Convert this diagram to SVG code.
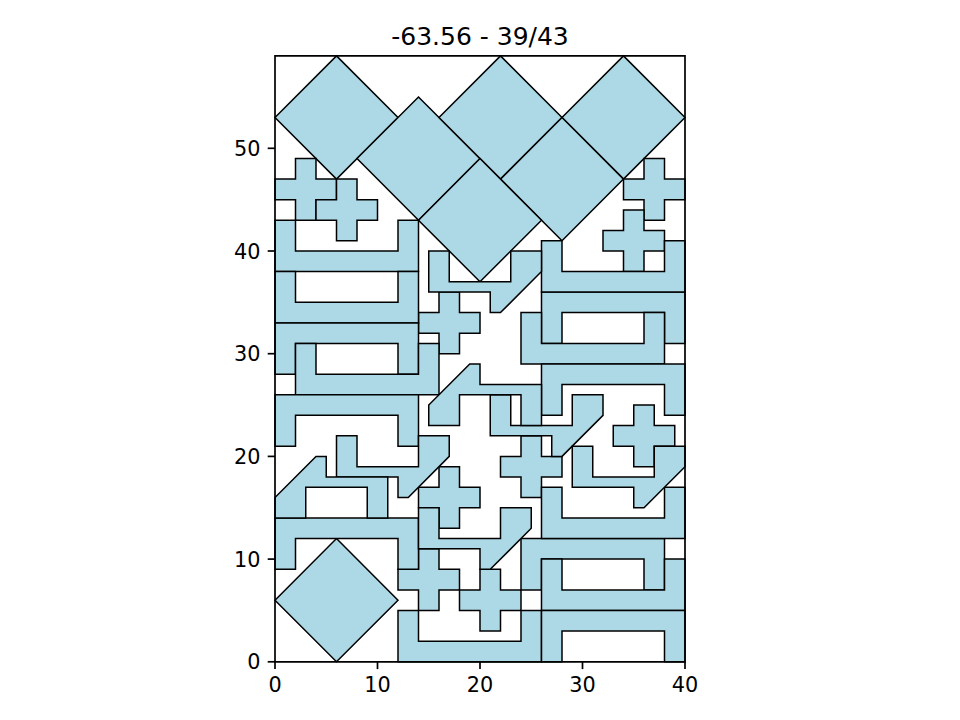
<svg xmlns="http://www.w3.org/2000/svg" width="960" height="720" viewBox="0 0 960 720">
<style>
.s{fill:#ADD8E6;stroke:#000;stroke-width:1.5;stroke-linejoin:miter;vector-effect:non-scaling-stroke}
.frame{fill:none;stroke:#000;stroke-width:1.7;vector-effect:non-scaling-stroke}
.tick{stroke:#000;stroke-width:1.7}
.tl{font-family:"DejaVu Sans",sans-serif;font-size:20.8px;fill:#000}
.title{font-family:"DejaVu Sans",sans-serif;font-size:25px;fill:#000}
</style>
<rect width="960" height="720" fill="#fff"/>
<g id="plot" transform="matrix(10.25 0 0 -10.27 275 661.8)">
<g id="diamond1"><polygon class="s" points="6,59 12,53 6,47 0,53"/></g>
<g id="diamond2"><polygon class="s" points="14,55 20,49 14,43 8,49"/></g>
<g id="diamond3"><polygon class="s" points="22,59 28,53 22,47 16,53"/></g>
<g id="diamond4"><polygon class="s" points="34,59 40,53 34,47 28,53"/></g>
<g id="diamond5"><polygon class="s" points="28,53 34,47 28,41 22,47"/></g>
<g id="diamond6"><polygon class="s" points="20,49 26,43 20,37 14,43"/></g>
<g id="diamond7"><polygon class="s" points="6,12 12,6 6,0 0,6"/></g>
<g id="cross1"><polygon class="s" points="2,49 4,49 4,47 6,47 6,45 4,45 4,43 2,43 2,45 0,45 0,47 2,47"/></g>
<g id="cross2"><polygon class="s" points="6,47 8,47 8,45 10,45 10,43 8,43 8,41 6,41 6,43 4,43 4,45 6,45"/></g>
<g id="cross3"><polygon class="s" points="36,49 38,49 38,47 40,47 40,45 38,45 38,43 36,43 36,45 34,45 34,47 36,47"/></g>
<g id="cross4"><polygon class="s" points="34,44 36,44 36,42 38,42 38,40 36,40 36,38 34,38 34,40 32,40 32,42 34,42"/></g>
<g id="cross5"><polygon class="s" points="16,36 18,36 18,34 20,34 20,32 18,32 18,30 16,30 16,32 14,32 14,34 16,34"/></g>
<g id="cross6"><polygon class="s" points="35,25 37,25 37,23 39,23 39,21 37,21 37,19 35,19 35,21 33,21 33,23 35,23"/></g>
<g id="cross7"><polygon class="s" points="24,22 26,22 26,20 28,20 28,18 26,18 26,16 24,16 24,18 22,18 22,20 24,20"/></g>
<g id="cross8"><polygon class="s" points="16,19 18,19 18,17 20,17 20,15 18,15 18,13 16,13 16,15 14,15 14,17 16,17"/></g>
<g id="cross9"><polygon class="s" points="14,11 16,11 16,9 18,9 18,7 16,7 16,5 14,5 14,7 12,7 12,9 14,9"/></g>
<g id="cross10"><polygon class="s" points="20,9 22,9 22,7 24,7 24,5 22,5 22,3 20,3 20,5 18,5 18,7 20,7"/></g>
<g id="u1"><polygon class="s" points="0,43 2,43 2,40 12,40 12,43 14,43 14,38 0,38"/></g>
<g id="u2"><polygon class="s" points="0,38 2,38 2,35 12,35 12,38 14,38 14,33 0,33"/></g>
<g id="u3"><polygon class="s" points="0,33 14,33 14,28 12,28 12,31 2,31 2,28 0,28"/></g>
<g id="u4"><polygon class="s" points="2,31 4,31 4,28 14,28 14,31 16,31 16,26 2,26"/></g>
<g id="u5"><polygon class="s" points="0,26 14,26 14,21 12,21 12,24 2,24 2,21 0,21"/></g>
<g id="u6"><polygon class="s" points="0,14 14,14 14,9 12,9 12,12 2,12 2,9 0,9"/></g>
<g id="u7"><polygon class="s" points="12,5 14,5 14,2 24,2 24,5 26,5 26,0 12,0"/></g>
<g id="u8"><polygon class="s" points="24,12 38,12 38,7 36,7 36,10 26,10 26,7 24,7"/></g>
<g id="u9"><polygon class="s" points="26,10 28,10 28,7 38,7 38,10 40,10 40,5 26,5"/></g>
<g id="u10"><polygon class="s" points="26,5 40,5 40,0 38,0 38,3 28,3 28,0 26,0"/></g>
<g id="u11"><polygon class="s" points="26,36 40,36 40,31 38,31 38,34 28,34 28,31 26,31"/></g>
<g id="u12"><polygon class="s" points="24,34 26,34 26,31 36,31 36,34 38,34 38,29 24,29"/></g>
<g id="u13"><polygon class="s" points="26,41 28,41 28,38 38,38 38,41 40,41 40,36 26,36"/></g>
<g id="u14"><polygon class="s" points="26,17 28,17 28,14 38,14 38,17 40,17 40,12 26,12"/></g>
<g id="u15"><polygon class="s" points="26,29 40,29 40,24 38,24 38,27 28,27 28,24 26,24"/></g>
<g id="hook1"><polygon class="s" points="15,40 17,40 17,37 23,37 23,40 26,40 26,38 22,34 21,34 21,36 15,36"/></g>
<g id="hook2"><polygon class="s" points="21,26 23,26 23,23 29,23 29,26 32,26 32,24 28,20 27,20 27,22 21,22"/></g>
<g id="hook3"><polygon class="s" points="14,15 16,15 16,12 22,12 22,15 25,15 25,13 21,9 20,9 20,11 14,11"/></g>
<g id="hook4"><polygon class="s" points="29,21 31,21 31,18 37,18 37,21 40,21 40,19 36,15 35,15 35,17 29,17"/></g>
<g id="hook5"><polygon class="s" points="6,22 8,22 8,19 14,19 14,22 17,22 17,20 13,16 12,16 12,18 6,18"/></g>
<g id="zig1"><polygon class="s" points="26,23 24,23 24,26 18,26 18,23 15,23 15,25 19,29 20,29 20,27 26,27"/></g>
<g id="zig2"><polygon class="s" points="11,14 9,14 9,17 3,17 3,14 0,14 0,16 4,20 5,20 5,18 11,18"/></g>
<rect class="frame" x="0" y="0" width="40" height="59"/>
</g>
<g id="ticks">
<line class="tick" x1="275" y1="661.8" x2="275" y2="669.1"/>
<line class="tick" x1="377.5" y1="661.8" x2="377.5" y2="669.1"/>
<line class="tick" x1="480" y1="661.8" x2="480" y2="669.1"/>
<line class="tick" x1="582.5" y1="661.8" x2="582.5" y2="669.1"/>
<line class="tick" x1="685" y1="661.8" x2="685" y2="669.1"/>
<line class="tick" x1="267.7" y1="661.8" x2="275" y2="661.8"/>
<line class="tick" x1="267.7" y1="559.1" x2="275" y2="559.1"/>
<line class="tick" x1="267.7" y1="456.4" x2="275" y2="456.4"/>
<line class="tick" x1="267.7" y1="353.7" x2="275" y2="353.7"/>
<line class="tick" x1="267.7" y1="251" x2="275" y2="251"/>
<line class="tick" x1="267.7" y1="148.3" x2="275" y2="148.3"/>
</g>
<g id="labels">
<text class="tl" x="275" y="691.5" text-anchor="middle">0</text>
<text class="tl" x="377.5" y="691.5" text-anchor="middle">10</text>
<text class="tl" x="480" y="691.5" text-anchor="middle">20</text>
<text class="tl" x="582.5" y="691.5" text-anchor="middle">30</text>
<text class="tl" x="685" y="691.5" text-anchor="middle">40</text>
<text class="tl" x="260.5" y="669.4" text-anchor="end">0</text>
<text class="tl" x="260.5" y="566.7" text-anchor="end">10</text>
<text class="tl" x="260.5" y="464" text-anchor="end">20</text>
<text class="tl" x="260.5" y="361.3" text-anchor="end">30</text>
<text class="tl" x="260.5" y="258.6" text-anchor="end">40</text>
<text class="tl" x="260.5" y="155.9" text-anchor="end">50</text>
<text class="title" x="480" y="45" text-anchor="middle">-63.56 - 39/43</text>
</g>
</svg>
